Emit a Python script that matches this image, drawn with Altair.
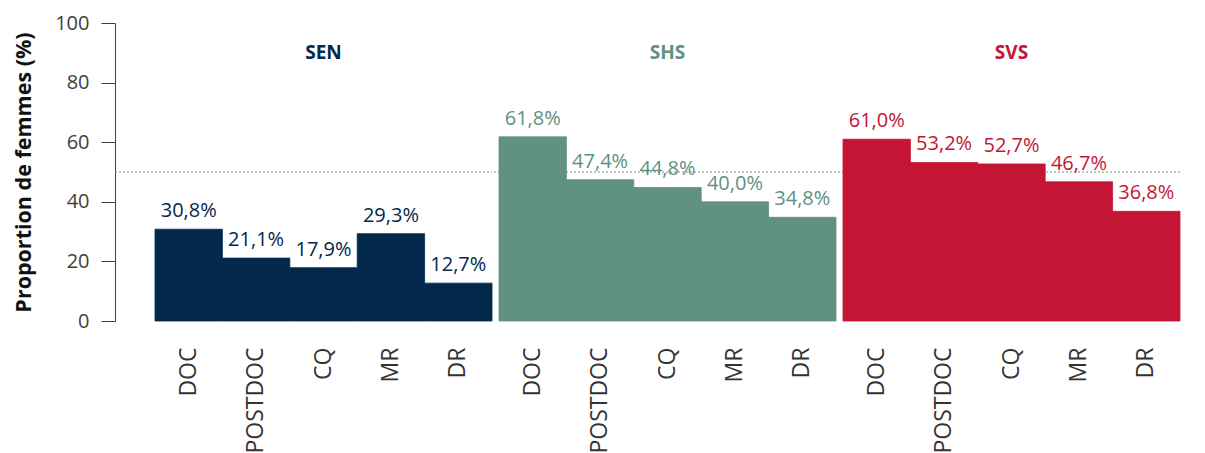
import altair as alt
import pandas as pd

groups = ["SEN", "SHS", "SVS"]
categories = ["DOC", "POSTDOC", "CQ", "MR", "DR"]
sen = [30.8, 21.1, 17.9, 29.3, 12.7]
shs = [61.8, 47.4, 44.8, 40.0, 34.8]
svs = [61.0, 53.2, 52.7, 46.7, 36.8]
values = [sen, shs, svs]
colors = ["#02284c", "#609181", "#c41535"]
threshold = [50]
y_ticks = [0, 20, 40, 60, 80, 100]

FONT = "Open Sans"
W = 337
H = 298
GAP = 5


def fmt(v):
    return f"{v:.1f}%".replace(".", ",")


def panel(name, vals, color, first):
    df = pd.DataFrame({"cat": categories, "val": vals, "label": [fmt(v) for v in vals]})
    base = alt.Chart(df)
    if first:
        yaxis = alt.Axis(values=y_ticks, offset=40, tickSize=14, labelPadding=12,
                         titlePadding=19, grid=False, domainColor="#404040",
                         tickColor="#404040", labelColor="#404040", labelFontSize=20,
                         labelFont=FONT, titleFont=FONT, titleFontSize=21.5,
                         titleFontWeight="bold", titleColor="#111111")
    else:
        yaxis = None
    yscale = alt.Scale(domain=[0, 100])
    x = alt.X("cat:N", sort=categories, title=None,
              scale=alt.Scale(paddingInner=0, paddingOuter=0),
              axis=alt.Axis(labelAngle=-90, domain=False, ticks=False, labelPadding=26,
                            labelFontSize=23, labelColor="#333333", labelFont=FONT))
    bars = base.mark_bar(color=color, stroke=color, strokeWidth=0.8).encode(
        x=x,
        y=alt.Y("val:Q", scale=yscale, axis=yaxis, title="Proportion de femmes (%)"),
    )
    text = base.mark_text(color=color, fontSize=20, font=FONT, baseline="alphabetic", dy=-12).encode(
        x=alt.X("cat:N", sort=categories),
        y=alt.Y("val:Q", scale=yscale, title="Proportion de femmes (%)"),
        text="label:N",
    )
    rule = alt.Chart(pd.DataFrame({"val": threshold})).mark_rule(
        color="#8a8a8a", strokeDash=[2, 2], strokeWidth=1
    ).encode(
        y=alt.Y("val:Q", scale=yscale, title="Proportion de femmes (%)"),
        x=alt.value(-40 if first else -GAP),
        x2=alt.value(W),
    )
    title = alt.Chart(pd.DataFrame({"g": [name]})).mark_text(
        color=color, fontSize=19, font=FONT, fontWeight="bold"
    ).encode(text="g:N", x=alt.value(W / 2), y=alt.value(30))
    return alt.layer(rule, bars, text, title).properties(width=W, height=H)


panels = [panel(g, v, c, i == 0) for i, (g, v, c) in enumerate(zip(groups, values, colors))]
chart = alt.hconcat(*panels, spacing=0).configure_view(stroke=None)

chart.save("out.html", embed_options={"renderer": "svg", "actions": False})
